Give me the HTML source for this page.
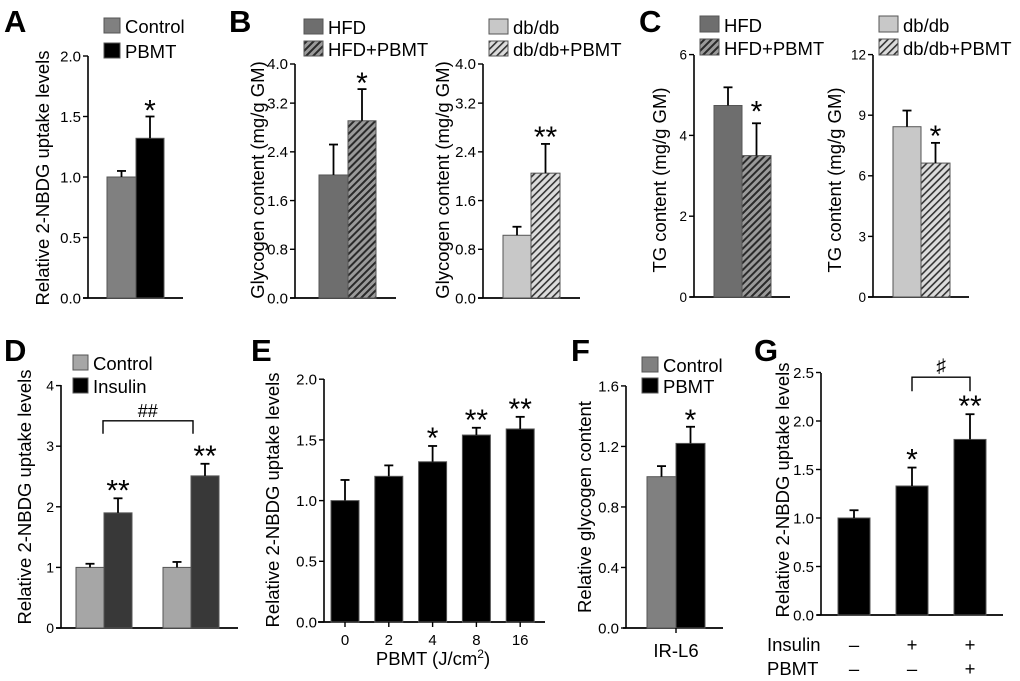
<!DOCTYPE html>
<html><head><meta charset="utf-8">
<style>
html,body{margin:0;padding:0;background:#fff;}
svg{display:block;font-family:"Liberation Sans",Arial,sans-serif;}
</style></head>
<body>
<svg id="fig" width="1020" height="681" viewBox="0 0 1020 681" xmlns="http://www.w3.org/2000/svg">
<defs>
<pattern id="hatchDark" patternUnits="userSpaceOnUse" width="5" height="5" patternTransform="rotate(45)">
<rect width="5" height="5" fill="#9a9a9a"/><rect width="2" height="5" fill="#2a2a2a"/>
</pattern>
<pattern id="hatchLight" patternUnits="userSpaceOnUse" width="5" height="5" patternTransform="rotate(45)">
<rect width="5" height="5" fill="#dcdcdc"/><rect width="1.6" height="5" fill="#333"/>
</pattern>
</defs>
</svg>
<script>
// ---- data ----
const aCats = ["Control","PBMT"];
const aValues = [1.0, 1.32];
const aErrors = [0.05, 0.18];
const aTicks = [0, 0.5, 1.0, 1.5, 2.0];
const aTickLabels = ["0.0","0.5","1.0","1.5","2.0"];

const bLeftCats = ["HFD","HFD+PBMT"];
const bLeftValues = [2.02, 2.91];
const bLeftErrors = [0.50, 0.52];
const bRightCats = ["db/db","db/db+PBMT"];
const bRightValues = [1.03, 2.05];
const bRightErrors = [0.14, 0.48];
const bTicks = [0, 0.8, 1.6, 2.4, 3.2];
const bTickLabels = ["0.0","0.8","1.6","2.4","3.2"];

const cLeftCats = ["HFD","HFD+PBMT"];
const cLeftValues = [4.74, 3.5];
const cLeftErrors = [0.45, 0.8];
const cLeftTicks = [0, 2, 4, 6];
const cRightCats = ["db/db","db/db+PBMT"];
const cRightValues = [8.43, 6.63];
const cRightErrors = [0.8, 1.0];
const cRightTicks = [0, 3, 6, 9, 12];

const dGroups = ["Group 1","Group 2"];
const dControlValues = [1.0, 1.0];
const dControlErrors = [0.06, 0.09];
const dInsulinValues = [1.9, 2.51];
const dInsulinErrors = [0.24, 0.2];
const dTicks = [0, 1, 2, 3, 4];

const eCats = ["0","2","4","8","16"];
const eValues = [1.0, 1.2, 1.32, 1.54, 1.59];
const eErrors = [0.17, 0.09, 0.13, 0.06, 0.1];
const eStars = ["","","*","**","**"];
const eTicks = [0, 0.5, 1.0, 1.5, 2.0];
const eTickLabels = ["0.0","0.5","1.0","1.5","2.0"];

const fCats = ["Control","PBMT"];
const fValues = [1.0, 1.22];
const fErrors = [0.07, 0.11];
const fTicks = [0, 0.4, 0.8, 1.2, 1.6];
const fTickLabels = ["0.0","0.4","0.8","1.2","1.6"];

const gCats = ["Basal","Insulin","Insulin+PBMT"];
const gValues = [1.0, 1.33, 1.81];
const gErrors = [0.08, 0.19, 0.26];
const gStars = ["","*","**"];
const gInsulinRow = ["\u2013","+","+"];
const gPbmtRow = ["\u2013","\u2013","+"];
const gTicks = [0, 0.5, 1.0, 1.5, 2.0, 2.5];
const gTickLabels = ["0.0","0.5","1.0","1.5","2.0","2.5"];

// ---- drawing helpers ----
const svg = document.getElementById('fig');
const NS = "http://www.w3.org/2000/svg";
const LEG = 18.5, TITLE = 18.5, STAR = 30;
function el(tag, attrs, parent, txt){
  const e = document.createElementNS(NS, tag);
  for (const k in attrs) e.setAttribute(k, attrs[k]);
  if (txt !== undefined) e.textContent = txt;
  (parent || svg).appendChild(e);
  return e;
}
function group(name){
  const g = el('g', {});
  
  
  return g;
}
function text(g, x, y, s, size, anchor, name, extra){
  const t = el('text', Object.assign({x:x, y:y, 'font-size':size, 'text-anchor':anchor||'start', fill:'#000'}, extra||{}), g, s);
  
  
  return t;
}
function yAxis(g, ax, y, ticks, labels, top, fs, tickLen){
  const l = el('line', {x1:ax, x2:ax, y1:top, y2:y(0), stroke:'#000','stroke-width':1.6}, g);
  
  
  ticks.forEach((v,i)=>{
    const yy = y(v);
    el('line', {x1:ax-(tickLen||5), x2:ax, y1:yy, y2:yy, stroke:'#000','stroke-width':1.4}, g);
    text(g, ax-7, yy+fs*0.36, labels ? labels[i] : String(v), fs, 'end', 'y-tick-label');
  });
}
function xAxis(g, x1, x2, yy){
  const l = el('line', {x1:x1, x2:x2, y1:yy, y2:yy, stroke:'#000','stroke-width':1.8}, g);
  
  
}
function bar(g, x, w, v, e, y, fill, name){
  const b = el('rect', {x:x, y:y(v), width:w, height:y(0)-y(v), fill:fill, stroke:'#555','stroke-width':1}, g);
  
  
  const cx = x + w/2;
  el('line', {x1:cx, x2:cx, y1:y(v), y2:y(v+e), stroke:'#000','stroke-width':1.8}, g);
  el('line', {x1:cx-4.5, x2:cx+4.5, y1:y(v+e), y2:y(v+e), stroke:'#000','stroke-width':1.8}, g);
  return cx;
}
function star(g, cx, yy, s){
  if (!s) return;
  text(g, cx, yy+6, s, STAR, 'middle', 'significance-marker');
}
function yTitle(g, cx, cy, s, fs){
  return text(g, cx, cy, s, fs||TITLE, 'middle', 'y-axis-title', {transform:'rotate(-90 '+cx+' '+cy+')'});
}
function legend(g, x, y, fill, label, w, h, fs){
  const r = el('rect', {x:x, y:y, width:w, height:h, fill:fill, stroke:'#555','stroke-width':1}, g);
  
  
  text(g, x+w+5, y+h, label, fs||LEG, 'start', 'legend-entry');
}
function panelLetter(x, y, s){
  text(svg, x, y, s, 31, 'start', 'panel-label', {'font-weight':'bold'});
}

// ---- Panel A ----
(function(){
  const g = group('panel-a');
  const y = v => 298 - v*121;
  panelLetter(4, 32, 'A');
  yAxis(g, 88, y, aTicks, aTickLabels, 56, 15);
  xAxis(g, 83, 183, 298);
  bar(g, 107, 29, aValues[0], aErrors[0], y, '#808080', 'bar-control');
  const cx2 = bar(g, 136, 28, aValues[1], aErrors[1], y, '#000', 'bar-pbmt');
  star(g, cx2, y(aValues[1]+aErrors[1])-2, '*');
  yTitle(g, 49, 178, 'Relative 2-NBDG uptake levels');
  legend(g, 104, 18, '#808080', aCats[0], 16, 15);
  legend(g, 104, 43, '#000', aCats[1], 16, 15);
})();

// ---- Panel B ----
(function(){
  panelLetter(229, 32, 'B');
  const y = v => 298 - v*60.9;
  const g1 = group('panel-b-hfd');
  yAxis(g1, 295, y, bTicks, bTickLabels, 64, 15);
  el('line',{x1:290,x2:295,y1:64,y2:64,stroke:'#000','stroke-width':1.4},g1);
  text(g1, 288, 69, '4.0', 15, 'end', 'y-tick-label');
  xAxis(g1, 290, 396, 298);
  bar(g1, 319, 29, bLeftValues[0], bLeftErrors[0], y, '#6e6e6e', 'bar-hfd');
  const c2 = bar(g1, 348, 28, bLeftValues[1], bLeftErrors[1], y, 'url(#hatchDark)', 'bar-hfd-pbmt');
  star(g1, c2, y(bLeftValues[1]+bLeftErrors[1])-2, '*');
  yTitle(g1, 264, 180, 'Glycogen content (mg/g GM)');
  legend(g1, 304, 19, '#6e6e6e', bLeftCats[0], 19, 15);
  legend(g1, 304, 41, 'url(#hatchDark)', bLeftCats[1], 19, 15);

  const g2 = group('panel-b-dbdb');
  yAxis(g2, 483, y, bTicks, bTickLabels, 64, 15);
  el('line',{x1:478,x2:483,y1:64,y2:64,stroke:'#000','stroke-width':1.4},g2);
  text(g2, 476, 69, '4.0', 15, 'end', 'y-tick-label');
  xAxis(g2, 478, 580, 298);
  bar(g2, 503, 28, bRightValues[0], bRightErrors[0], y, '#c8c8c8', 'bar-dbdb');
  const d2 = bar(g2, 531, 29, bRightValues[1], bRightErrors[1], y, 'url(#hatchLight)', 'bar-dbdb-pbmt');
  star(g2, d2, y(bRightValues[1]+bRightErrors[1])-3, '**');
  yTitle(g2, 449, 180, 'Glycogen content (mg/g GM)');
  legend(g2, 489, 19, '#c8c8c8', bRightCats[0], 19, 15);
  legend(g2, 489, 41, 'url(#hatchLight)', bRightCats[1], 19, 15);
})();

// ---- Panel C ----
(function(){
  panelLetter(639, 32, 'C');
  const g1 = group('panel-c-hfd');
  const y1 = v => 297 - v*40.4;
  yAxis(g1, 694, y1, cLeftTicks, null, 55, 13.5);
  xAxis(g1, 690, 790, 297);
  bar(g1, 714, 28, cLeftValues[0], cLeftErrors[0], y1, '#6e6e6e', 'bar-hfd');
  const c2 = bar(g1, 742, 29, cLeftValues[1], cLeftErrors[1], y1, 'url(#hatchDark)', 'bar-hfd-pbmt');
  star(g1, c2, y1(cLeftValues[0])+10, '*');
  yTitle(g1, 666, 180, 'TG content (mg/g GM)');
  legend(g1, 700, 16, '#6e6e6e', cLeftCats[0], 19, 16);
  legend(g1, 700, 39, 'url(#hatchDark)', cLeftCats[1], 19, 16);

  const g2 = group('panel-c-dbdb');
  const y2 = v => 297 - v*20.2;
  yAxis(g2, 873, y2, cRightTicks, null, 55, 13.5);
  xAxis(g2, 868, 969, 297);
  bar(g2, 893, 28, cRightValues[0], cRightErrors[0], y2, '#c8c8c8', 'bar-dbdb');
  const d2 = bar(g2, 921, 29, cRightValues[1], cRightErrors[1], y2, 'url(#hatchLight)', 'bar-dbdb-pbmt');
  star(g2, d2, y2(cRightValues[1]+cRightErrors[1])-3, '*');
  yTitle(g2, 841, 180, 'TG content (mg/g GM)');
  legend(g2, 879, 16, '#c8c8c8', cRightCats[0], 19, 16);
  legend(g2, 879, 39, 'url(#hatchLight)', cRightCats[1], 19, 16);
})();

// ---- Panel D ----
(function(){
  panelLetter(4, 361, 'D');
  const g = group('panel-d');
  const y = v => 628 - v*60.6;
  yAxis(g, 61, y, dTicks, null, 385, 14);
  xAxis(g, 56, 238, 628);
  const lefts = [76, 163];
  const cx = [];
  dGroups.forEach((d,i)=>{
    bar(g, lefts[i], 28, dControlValues[i], dControlErrors[i], y, '#a6a6a6', 'bar-control');
    cx.push(bar(g, lefts[i]+28, 28, dInsulinValues[i], dInsulinErrors[i], y, '#383838', 'bar-insulin'));
    star(g, cx[i], y(dInsulinValues[i]+dInsulinErrors[i])-4, '**');
  });
  const bt = y(Math.max(dInsulinValues[0]+dInsulinErrors[0], dInsulinValues[1]+dInsulinErrors[1]))-43;
  const br = el('polyline', {points:`${cx[0]-15},${bt+13} ${cx[0]-15},${bt} ${cx[1]-12},${bt} ${cx[1]-12},${bt+13}`, fill:'none', stroke:'#000','stroke-width':1.4}, g);
  
  
  text(g, (cx[0]+cx[1])/2-14, bt-4, '##', 18, 'middle', 'hash-marker', {'font-style':'italic'});
  yTitle(g, 31, 497, 'Relative 2-NBDG uptake levels');
  legend(g, 73, 355, '#a6a6a6', 'Control', 15, 15);
  legend(g, 73, 378, '#000', 'Insulin', 15, 15);
})();

// ---- Panel E ----
(function(){
  panelLetter(251, 361, 'E');
  const g = group('panel-e');
  const y = v => 622 - v*121.4;
  yAxis(g, 324, y, eTicks, eTickLabels, 379, 15);
  xAxis(g, 318, 545, 622);
  const x = i => 345 + i*43.8;
  eCats.forEach((c,i)=>{
    const cx = x(i);
    bar(g, cx-14, 28, eValues[i], eErrors[i], y, '#000', 'bar-dose-'+c);
    star(g, cx, y(eValues[i]+eErrors[i])-4, eStars[i]);
    el('line',{x1:cx,x2:cx,y1:622,y2:627,stroke:'#000','stroke-width':1.4},g);
    text(g, cx, 645, c, 15, 'middle', 'x-tick-label');
  });
  const t = text(g, 433, 665, 'PBMT (J/cm', 18.5, 'middle', 'x-axis-title');
  el('tspan', {'font-size':12, dy:-7}, t, '2');
  el('tspan', {'font-size':18.5, dy:7}, t, ')');
  yTitle(g, 279, 500, 'Relative 2-NBDG uptake levels');
})();

// ---- Panel F ----
(function(){
  panelLetter(571, 361, 'F');
  const g = group('panel-f');
  const y = v => 628 - v*151.3;
  yAxis(g, 626, y, fTicks, fTickLabels, 386, 15);
  xAxis(g, 623, 723, 628);
  bar(g, 647, 29, fValues[0], fErrors[0], y, '#808080', 'bar-control');
  const c2 = bar(g, 676, 29, fValues[1], fErrors[1], y, '#000', 'bar-pbmt');
  star(g, c2, y(fValues[1]+fErrors[1])-3, '*');
  el('line',{x1:676,x2:676,y1:628,y2:633,stroke:'#000','stroke-width':1.4},g);
  text(g, 676, 657, 'IR-L6', 18.5, 'middle', 'x-tick-label');
  yTitle(g, 591, 507, 'Relative glycogen content');
  legend(g, 642, 357, '#808080', fCats[0], 16, 15);
  legend(g, 642, 378, '#000', fCats[1], 16, 15);
})();

// ---- Panel G ----
(function(){
  panelLetter(754, 361, 'G');
  const g = group('panel-g');
  const y = v => 615 - v*97;
  yAxis(g, 821, y, gTicks, gTickLabels, 373, 15);
  xAxis(g, 817, 1003, 615);
  const x = i => 854 + i*58;
  gCats.forEach((c,i)=>{
    const cx = x(i);
    bar(g, cx-16, 32, gValues[i], gErrors[i], y, '#000', 'bar-'+c.toLowerCase().replace(/\+/g,'-'));
    star(g, cx, y(gValues[i]+gErrors[i])-4, gStars[i]);
    text(g, cx, 651, gInsulinRow[i], 18.5, 'middle', 'insulin-sign');
    text(g, cx, 675, gPbmtRow[i], 18.5, 'middle', 'pbmt-sign');
  });
  const bt = y(gValues[2]+gErrors[2]) - 37;
  const br = el('polyline', {points:`${x(1)},${bt+14} ${x(1)},${bt} ${x(2)},${bt} ${x(2)},${bt+14}`, fill:'none', stroke:'#000','stroke-width':1.4}, g);
  
  
  text(g, (x(1)+x(2))/2, bt-5, '\u266F', 19, 'middle', 'hash-marker');
  text(g, 767, 651, 'Insulin', 18.5, 'start', 'insulin-row-label');
  text(g, 767, 675, 'PBMT', 18.5, 'start', 'pbmt-row-label');
  yTitle(g, 789, 490, 'Relative 2-NBDG uptake levels');
})();
</script>
</body></html>
